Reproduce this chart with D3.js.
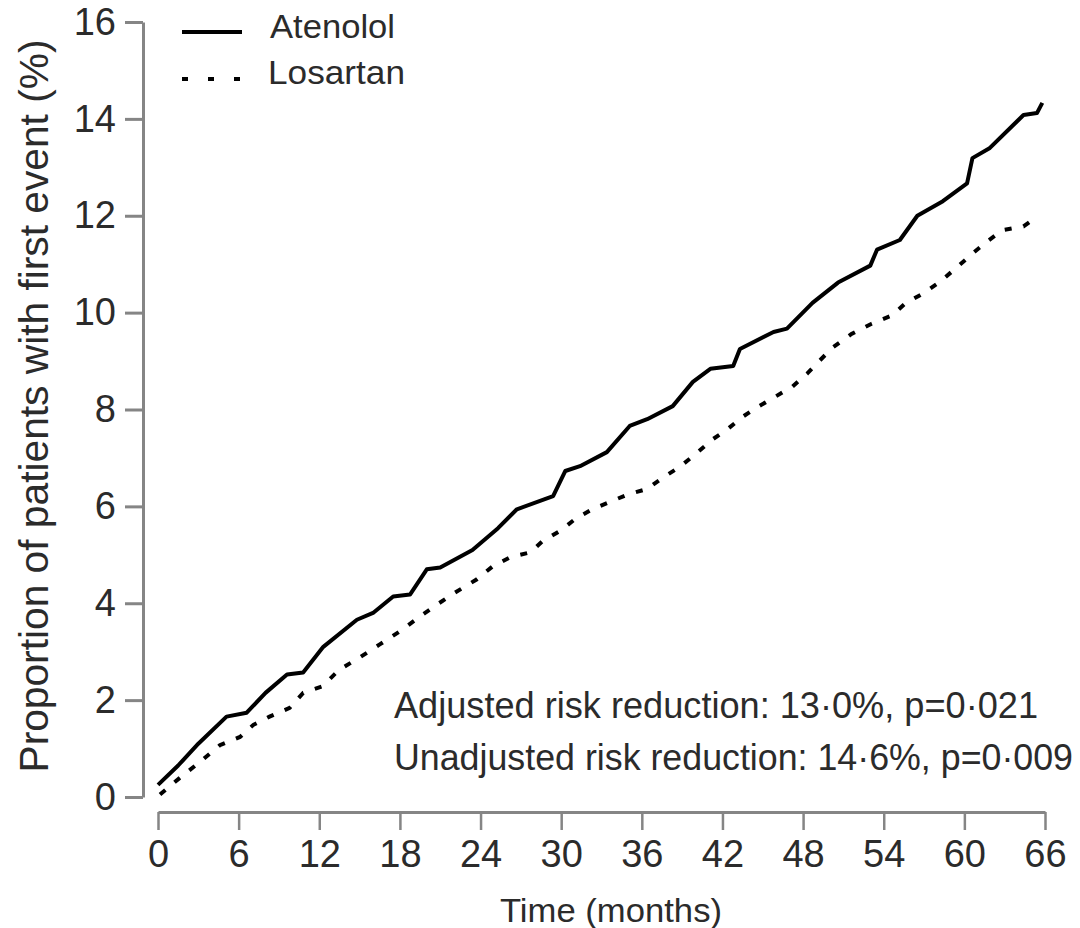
<!DOCTYPE html>
<html>
<head>
<meta charset="utf-8">
<script src="https://cdn.jsdelivr.net/npm/d3@7"></script>
<style>
  body { margin: 0; background: #fff; }
  svg { display: block; font-family: "Liberation Sans", Arial, sans-serif; }
</style>
</head>
<body>
<svg id="chart" width="1080" height="928"></svg>
<script>
const xTicks = [0, 6, 12, 18, 24, 30, 36, 42, 48, 54, 60, 66]
const yTicks = [0, 2, 4, 6, 8, 10, 12, 14, 16]

// months, % with first event
const atenololMonths = [0, 1.5, 3, 5.1, 6.6, 8, 9.6, 10.8, 12.3, 14.8, 16, 17.5, 18.75, 20, 21, 23.4, 25.3, 26.7, 29.4, 30.3, 31.4, 33.4, 35.1, 36.4, 38.3, 39.8, 41.1, 42.8, 43.3, 45.8, 46.8, 48.7, 50.6, 53, 53.5, 55.2, 56.5, 58.4, 60.2, 60.6, 61.9, 64.4, 65.4, 65.8]
const atenololValues = [0.25, 0.65, 1.1, 1.66, 1.74, 2.15, 2.53, 2.57, 3.1, 3.66, 3.8, 4.14, 4.18, 4.7, 4.74, 5.1, 5.55, 5.94, 6.21, 6.73, 6.83, 7.12, 7.66, 7.8, 8.07, 8.57, 8.84, 8.9, 9.25, 9.6, 9.67, 10.2, 10.62, 10.97, 11.3, 11.5, 12.0, 12.3, 12.67, 13.19, 13.4, 14.08, 14.12, 14.33]

const losartanMonths = [0.15, 1.6, 3.1, 4.6, 6.1, 7.1, 8.3, 9.8, 10.8, 12.2, 13.5, 15, 16.5, 18, 19.5, 20.8, 22.1, 23.7, 24.9, 26.2, 27.7, 28.6, 29.9, 31, 32.3, 33.6, 35, 36.4, 37.6, 38.8, 40, 41.3, 42.4, 43.5, 44.6, 45.9, 47.2, 48.3, 49.2, 50.2, 51.6, 53.1, 54.6, 55.6, 56.9, 58.2, 59.5, 60.6, 61.7, 62.8, 64.4, 65.5]
const losartanValues = [0.05, 0.39, 0.72, 1.07, 1.24, 1.49, 1.66, 1.84, 2.15, 2.28, 2.63, 2.88, 3.15, 3.42, 3.73, 3.98, 4.22, 4.49, 4.76, 4.95, 5.05, 5.28, 5.49, 5.73, 5.94, 6.09, 6.25, 6.36, 6.6, 6.81, 7.08, 7.39, 7.6, 7.85, 8.05, 8.26, 8.47, 8.74, 9.0, 9.28, 9.56, 9.77, 9.94, 10.19, 10.39, 10.64, 10.95, 11.22, 11.47, 11.7, 11.78, 12.0]

const seriesNames = ["Atenolol", "Losartan"]
const notes = ["Adjusted risk reduction: 13·0%, p=0·021", "Unadjusted risk reduction: 14·6%, p=0·009"]

const svg = d3.select("#chart")
const axisColor = "#858585"
const textColor = "#2b2b2b"

let x = d3.scaleLinear().domain([0, 66]).range([158, 1045])
let y = d3.scaleLinear().domain([0, 16]).range([797, 22])

// y axis
let yAxis = svg.append("g")
  .attr("transform", "translate(143,0)")
  .call(d3.axisLeft(y).tickValues(yTicks).tickSize(18).tickPadding(9).tickSizeOuter(0))
yAxis.select(".domain").attr("stroke", axisColor).attr("stroke-width", 3)
yAxis.selectAll(".tick line").attr("stroke", axisColor).attr("stroke-width", 3)
yAxis.selectAll(".tick text")
  .attr("fill", textColor)
  .style("font-size", "38px")
  .attr("font-family", null)

// x axis
let xAxis = svg.append("g")
  .attr("transform", "translate(0,812)")
  .call(d3.axisBottom(x).tickValues(xTicks).tickSize(18).tickPadding(10).tickSizeOuter(0))
xAxis.select(".domain").attr("stroke", axisColor).attr("stroke-width", 3)
xAxis.selectAll(".tick line").attr("stroke", axisColor).attr("stroke-width", 2.5)
xAxis.selectAll(".tick text")
  .attr("fill", textColor)
  .style("font-size", "38px")
  .attr("font-family", null)

// titles
svg.append("text")
  .attr("transform", "translate(48,406) rotate(-90)")
  .attr("text-anchor", "middle")
  .attr("fill", textColor)
  .style("font-size", "40px")
  .attr("textLength", 733)
  .attr("lengthAdjust", "spacingAndGlyphs")
  .text("Proportion of patients with first event (%)")

svg.append("text")
  .attr("x", 500)
  .attr("y", 922)
  .attr("fill", textColor)
  .style("font-size", "34px")
  .attr("textLength", 222)
  .attr("lengthAdjust", "spacingAndGlyphs")
  .text("Time (months)")

// curves
let line = d3.line()
  .x(d => x(d[0]))
  .y(d => y(d[1]))

let atenolol = d3.zip(atenololMonths, atenololValues)
let losartan = d3.zip(losartanMonths, losartanValues)

svg.append("path")
  .datum(atenolol)
  .attr("d", line)
  .attr("fill", "none")
  .attr("stroke", "#000")
  .attr("stroke-width", 4)
  .attr("stroke-linejoin", "round")

svg.append("path")
  .datum(losartan)
  .attr("d", line)
  .attr("fill", "none")
  .attr("stroke", "#000")
  .attr("stroke-width", 4)
  .attr("stroke-dasharray", "7,12")

// legend
let legend = svg.append("g")
legend.append("line")
  .attr("x1", 182).attr("x2", 242).attr("y1", 32).attr("y2", 32)
  .attr("stroke", "#000").attr("stroke-width", 4)
legend.append("line")
  .attr("x1", 182).attr("x2", 240).attr("y1", 79).attr("y2", 79)
  .attr("stroke", "#000").attr("stroke-width", 4)
  .attr("stroke-dasharray", "6,20")
legend.selectAll("text")
  .data(seriesNames)
  .enter()
  .append("text")
  .attr("x", (d, i) => i ? 268 : 270)
  .attr("y", (d, i) => 38 + i * 46)
  .attr("fill", textColor)
  .style("font-size", "33px")
  .attr("textLength", (d, i) => i ? 137 : 125)
  .attr("lengthAdjust", "spacingAndGlyphs")
  .text(d => d)

// notes
svg.selectAll(".note")
  .data(notes)
  .enter()
  .append("text")
  .attr("class", "note")
  .attr("x", 394)
  .attr("y", (d, i) => 718 + i * 52)
  .attr("fill", textColor)
  .style("font-size", "36px")
  .attr("textLength", (d, i) => i ? 679 : 644)
  .attr("lengthAdjust", "spacingAndGlyphs")
  .text(d => d)
</script>
</body>
</html>
